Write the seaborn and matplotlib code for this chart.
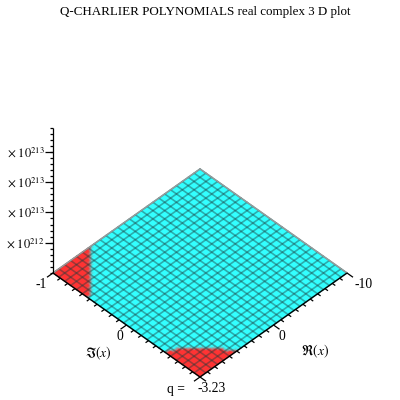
import numpy as np
import pandas as pd
import matplotlib
matplotlib.use("Agg")
import matplotlib.pyplot as plt
from matplotlib.colors import LinearSegmentedColormap
import seaborn as sns

TITLE = "Q-CHARLIER POLYNOMIALS real complex 3 D plot"
re_range = [10.0, -10.0]
im_range = [1.0, -1.0]
# red region: points with Re above this cut-off, read along Im
boundary_im = [-1.0, -0.76, -0.52, -0.5, 0.5, 0.516, 0.72, 0.96, 1.0]
boundary_re = [4.9, 7.2, 9.6, 11.0, 11.0, 9.64, 7.2, 5.2, 5.0]
n_cells = 25
n_nodes = 50
z_major = [5e212, 1e213, 1.5e213, 2e213]
z_labels = [r"$\times\ 10^{212}$", r"$\times\ 10^{213}$", r"$\times\ 10^{213}$", r"$\times\ 10^{213}$"]
z_top = 2.4e213
z_minor_step = 1e212
im_ticks = [round(-1 + 0.1 * i, 1) for i in range(21)]
re_ticks = list(range(-10, 11))

sns.set_theme(style="white")
plt.rcParams["font.family"] = ["Liberation Serif", "DejaVu Serif"]
plt.rcParams["mathtext.fontset"] = "stix"

fig = plt.figure(figsize=(4, 4), dpi=100)
ax = fig.add_axes([0, 0, 1, 1])
ax.set_xlim(0, 400)
ax.set_ylim(400, 0)
ax.axis("off")

O = np.array([200.0, 377.0])
DX_A, DY_A = 147.0, -104.0   # along Re from +10 to -10
DX_B, DY_B = -147.0, -104.0  # along Im from +1 to -1


def project(re, im):
    a = (re_range[0] - np.asarray(re, float)) / (re_range[0] - re_range[1])
    b = (im_range[0] - np.asarray(im, float)) / (im_range[0] - im_range[1])
    return O[0] + DX_A * a + DX_B * b, O[1] + DY_A * a + DY_B * b


# surface colour
re_nodes = np.linspace(-10, 10, n_nodes)
im_nodes = np.linspace(-1, 1, n_nodes)
RE, IM = np.meshgrid(re_nodes, im_nodes)
cut = np.interp(IM, boundary_im, boundary_re)
C = (RE > cut).astype(float)
PX, PY = project(RE, IM)
cmap = LinearSegmentedColormap.from_list("surf", ["#33ffff", "#ff3333"])
ax.pcolormesh(PX, PY, C, cmap=cmap, shading="gouraud", vmin=0, vmax=1, rasterized=True)

# wire grid
rows = []
uid = 0
for v in np.linspace(-10, 10, n_cells + 1):
    x, y = project([v, v], [-1, 1])
    rows += [dict(x=x[i], y=y[i], u=uid) for i in range(2)]
    uid += 1
for v in np.linspace(-1, 1, n_cells + 1):
    x, y = project([-10, 10], [v, v])
    rows += [dict(x=x[i], y=y[i], u=uid) for i in range(2)]
    uid += 1
grid = pd.DataFrame(rows)
sns.lineplot(data=grid, x="x", y="y", units="u", estimator=None, sort=False,
             color="#1c3c3c", alpha=0.42, lw=1.2, ax=ax, legend=False)

# outer gray edges (top pair)
for r, i in [((-10, -10), (-1, 1)), ((-10, 10), (-1, -1))]:
    x, y = project(r, i)
    ax.plot(x, y, color="#9a9a9a", lw=1.0)


# axes
K = dict(color="black", lw=0.9, solid_capstyle="butt")
x, y = project([10, 10], [-1, 1])
ax.plot(x, y, **K)
x, y = project([10, -10], [1, 1])
ax.plot(x, y, **K)
for t in im_ticks:
    x, y = project(10, t)
    L = 6 if t in (-1.0, 0.0, 1.0) else 3
    ax.plot([x, x - L], [y, y + L * 104 / 147], **K)
for t in re_ticks:
    x, y = project(t, 1)
    L = 6 if t in (-10, 0, 10) else 3
    ax.plot([x, x + L], [y, y + L * 104 / 147], **K)

# vertical axis
x0, y0 = project(10, -1)
ax.plot([x0, x0], [y0, y0 - z_top * 60.6 / 1e213], **K)
for m in np.arange(0, z_top + 1, z_minor_step):
    py = y0 - m * 60.6 / 1e213
    ax.plot([x0 - 3, x0], [py, py], **K)
for m, lab in zip(z_major, z_labels):
    py = y0 - m * 60.6 / 1e213
    ax.plot([x0 - 8, x0], [py, py], **K)
    ax.text(44.5, py + 0.5, lab, ha="right", va="center", fontsize=8.9, color="black")

T = dict(color="black", fontsize=9.8, va="center")
ax.text(205, 12, TITLE, ha="center", color="black", fontsize=9.4, va="center")
ax.text(41, 284, "-1", ha="center", **T)
ax.text(120, 337, "0", ha="center", **T)
ax.text(282, 336, "0", ha="center", **T)
ax.text(364, 284, "-10", ha="center", **T)
ax.text(98, 353, r"$\mathfrak{I}(x)$", ha="center", **T)
ax.text(315, 351, r"$\mathfrak{R}(x)$", ha="center", **T)
ax.text(167, 389, "q =", ha="left", **T)
ax.text(198, 389, "-3.23", ha="left", **T)

fig.savefig("out.png", dpi=100)
